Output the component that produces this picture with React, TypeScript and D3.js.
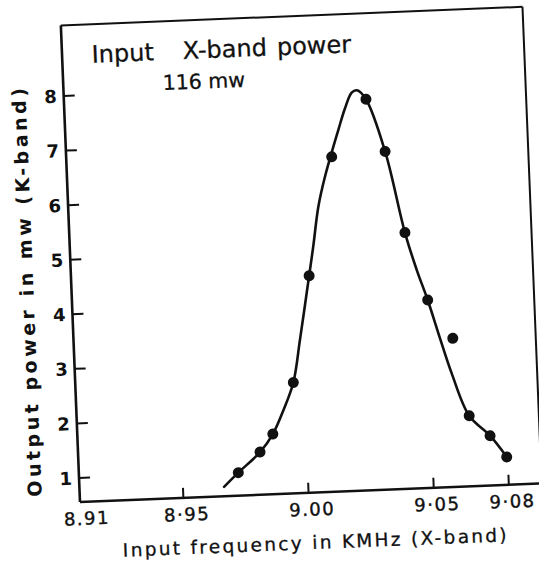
import React from "react";
import * as d3 from "d3";

// ---- data ----
const freqTicks = [8.91, 8.95, 9.0, 9.05, 9.08];
const freqTickLabels = ["8.91", "8·95", "9.00", "9·05", "9·08"];
const powerTicks = [1, 2, 3, 4, 5, 6, 7, 8];

// measured points (frequency in KMHz, output power in mw)
const pointFreq = [8.9723, 8.9813, 8.9867, 8.9957, 9.0037, 9.0146, 9.0292, 9.036, 9.0426, 9.0506, 9.06, 9.0653, 9.0733, 9.0796];
const pointPower = [0.98, 1.34, 1.66, 2.59, 4.53, 6.69, 7.72, 6.75, 5.25, 4.0, 3.28, 1.85, 1.47, 1.07];

// hand-drawn fitted curve
const curveFreq = [8.9664, 8.9723, 8.9813, 8.9867, 8.9913, 8.9957, 8.999, 9.0037, 9.0058, 9.0085, 9.0116, 9.0177, 9.0207, 9.0236, 9.0257, 9.0292, 9.036, 9.0426, 9.0467, 9.0506, 9.0549, 9.059, 9.0653, 9.0733, 9.0796];
const curvePower = [0.73, 0.98, 1.34, 1.66, 2.09, 2.59, 3.36, 4.53, 5.06, 5.79, 6.33, 7.18, 7.57, 7.85, 7.89, 7.72, 6.75, 5.25, 4.56, 4.0, 3.29, 2.64, 1.85, 1.47, 1.07];

const titleLine1 = ["Input", "X-band", "power"];
const titleLine2 = "116 mw";
const xTitle = "Input frequency in KMHz (X-band)";
const yTitle = "Output power in mw (K-band)";

// ---- layout ----
const W = 539;
const H = 566;
const frameW = 462;
const frameH = 477;
const originX = 80;
const originY = 502;
const tilt = -2.3;
const font = "'DejaVu Sans', sans-serif";

export default function App() {
  const x = d3.scaleLinear().domain([8.9087, 9.0931]).range([0, frameW]);
  const y = d3.scaleLinear().domain([0.559, 9.295]).range([frameH, 0]);

  const idx = d3.range(curveFreq.length);
  const line = d3
    .line<number>()
    .x((i) => x(curveFreq[i]))
    .y((i) => y(curvePower[i]))
    .curve(d3.curveCatmullRom.alpha(0.5));

  return (
    <svg width={W} height={H} style={{ position: "absolute", left: 0, top: 0 }}>
      <rect width={W} height={H} fill="#ffffff" />
      <g transform={`translate(${originX},${originY}) rotate(${tilt}) translate(0,${-frameH})`}>
        {/* frame */}
        <line x1={0} y1={0} x2={frameW} y2={0} stroke="#111" strokeWidth={2} />
        <line x1={frameW} y1={0} x2={frameW} y2={frameH} stroke="#111" strokeWidth={2} />
        <line x1={0} y1={0} x2={0} y2={frameH} stroke="#111" strokeWidth={2.6} />
        <line x1={0} y1={frameH} x2={frameW} y2={frameH} stroke="#111" strokeWidth={2.6} />

        {/* x ticks */}
        {freqTicks.map((t, i) => (
          <g key={"xt" + i}>
            {i > 0 && (
              <line x1={x(t)} y1={frameH} x2={x(t)} y2={frameH - 10} stroke="#111" strokeWidth={2} />
            )}
            <text
              x={x(t) + 3}
              y={frameH + 23}
              textAnchor="middle"
              fontFamily={font}
              fontSize={18}
              letterSpacing={1.5}
              fill="#111"
              stroke="#111"
              strokeWidth={0.4}
            >
              {freqTickLabels[i]}
            </text>
          </g>
        ))}

        {/* y ticks */}
        {powerTicks.map((v) => (
          <g key={"yt" + v}>
            <line x1={0} y1={y(v)} x2={11} y2={y(v)} stroke="#111" strokeWidth={2} />
            <text
              x={-7}
              y={y(v)}
              dy="0.36em"
              textAnchor="end"
              fontFamily={font}
              fontSize={18}
              fontWeight="bold"
              fill="#111"
            >
              {v}
            </text>
          </g>
        ))}

        {/* axis titles */}
        <text
          x={232.9}
          y={533.4}
          textAnchor="middle"
          fontFamily={font}
          fontSize={18.5}
          textLength={384}
          lengthAdjust="spacing"
          fill="#111"
          stroke="#111"
          strokeWidth={0.3}
        >
          {xTitle}
        </text>
        <text
          transform={`translate(-38,265.5) rotate(-90)`}
          textAnchor="middle"
          fontFamily={font}
          fontSize={19}
          fontWeight="bold"
          textLength={409}
          lengthAdjust="spacing"
          fill="#111"
        >
          {yTitle}
        </text>

        {/* annotation */}
        <text y={38.5} fontFamily={font} fontSize={24} fill="#111" stroke="#111" strokeWidth={0.3}>
          <tspan x={29.6}>{titleLine1[0]}</tspan>
          <tspan x={120.6}>{titleLine1[1]}</tspan>
          <tspan x={215}>{titleLine1[2]}</tspan>
        </text>
        <text x={99.4} y={68.7} fontFamily={font} fontSize={20.5} fill="#111" stroke="#111" strokeWidth={0.3}>
          {titleLine2}
        </text>

        {/* fitted curve */}
        <path d={line(idx) || ""} fill="none" stroke="#111" strokeWidth={2.6} strokeLinejoin="round" strokeLinecap="round" />

        {/* points */}
        {pointFreq.map((f, i) => (
          <circle key={"p" + i} cx={x(f)} cy={y(pointPower[i])} r={5.5} fill="#111" />
        ))}
      </g>
    </svg>
  );
}
